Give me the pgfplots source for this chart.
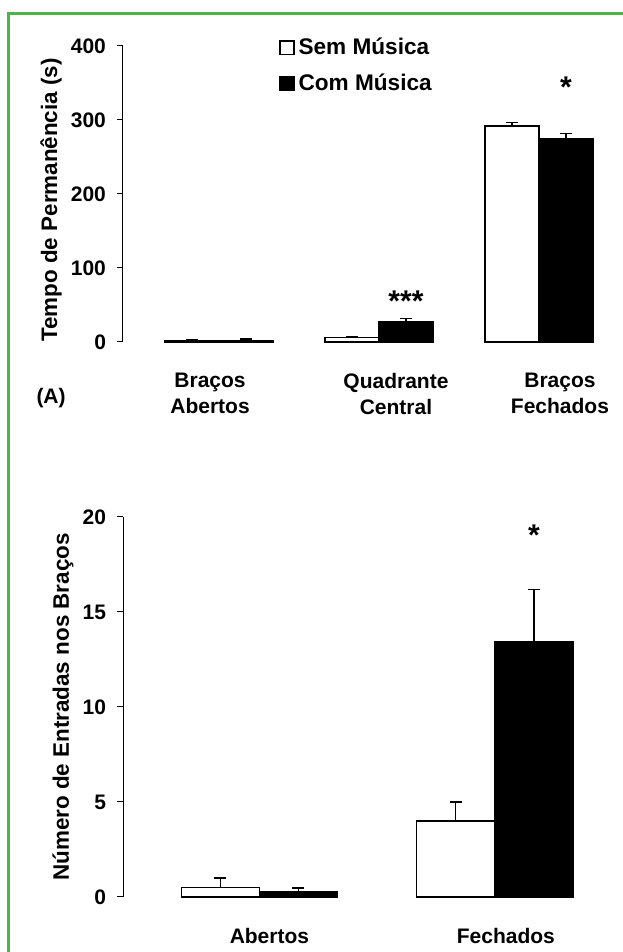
\documentclass[border=0pt]{standalone}
\usepackage{fontspec}
\setmainfont{Liberation Sans}
\usepackage{pgfplots}
\pgfplotsset{compat=1.18}
\definecolor{framegreen}{RGB}{76,180,72}

\pgfplotsset{
  common/.style={
    scale only axis,
    axis lines*=left,
    x axis line style={draw=none},
    y axis line style={-, line width=0.5pt, black},
    major x tick style={draw=none},
    tick align=outside,
    major tick length=3pt,
    ytick style={line width=0.5pt, black},
    /pgf/number format/assume math mode=true,
    yticklabel style={font=\fontsize{10.5}{12}\selectfont\bfseries, xshift=-2pt},
    xticklabel style={align=center, font=\fontsize{10.5}{13}\selectfont\bfseries, yshift=-9pt},
    ybar, bar shift=0pt,
    clip=false,
  },
  sem/.style={fill=white, draw=black, line width=0.6pt, bar shift=0pt,
    error bars/.cd, y dir=plus, y explicit,
    error bar style={line width=0.6pt, black},
    error mark options={rotate=90, mark size=3pt, line width=0.6pt, black}},
  com/.style={fill=black, draw=black, line width=0.6pt, bar shift=0pt,
    error bars/.cd, y dir=plus, y explicit,
    error bar style={line width=0.6pt, black},
    error mark options={rotate=90, mark size=3pt, line width=0.6pt, black}},
}

\begin{document}
\begin{tikzpicture}
\useasboundingbox (0pt,0pt) rectangle (311pt,476pt);
\draw[framegreen, line width=1.5pt] (4.3pt,-5pt) -- (4.3pt,469pt) -- (320pt,469pt);

% ---------- Panel A ----------
\begin{axis}[common,
  at={(61.5pt,305pt)}, anchor=south west,
  width=248pt, height=148pt,
  xmin=-0.6, xmax=2.5, ymin=0, ymax=400,
  ytick={0,100,200,300,400},
  xtick={-0.056,1.106,2.131},
  xticklabels={Braços\\Abertos, Quadrante\\Central, Braços\\Fechados},
  bar width=0.3375,
  ylabel={Tempo de Permanência (s)},
  ylabel style={at={([xshift=-36pt,yshift=-3pt]axis description cs:0,0.5)}, anchor=center, font=\fontsize{11.2}{12}\selectfont\bfseries},
  legend image code/.code={\draw[#1, line width=0.6pt] (0pt,-3.4pt) rectangle (7pt,3.4pt);},
  legend style={draw=none, fill=none, at={(axis description cs:0.3145,1.035)}, anchor=north west,
    inner sep=0pt, row sep=6pt, font=\fontsize{11.3}{12}\selectfont\bfseries,
    nodes={inner xsep=2pt, inner ysep=1pt}},
  legend cell align=left,
]
\addplot[sem] coordinates {(-0.16875,2) +- (0,1) (0.83125,6.5) +- (0,0.5) (1.83125,292) +- (0,4.5)};
\addplot[com] coordinates {(0.16875,2.5) +- (0,1.5) (1.16875,27.5) +- (0,4) (2.16875,274.5) +- (0,7)};
\legend{Sem Música, Com Música}
\node[font=\fontsize{15}{15}\selectfont\bfseries, anchor=base] at (axis cs:1.16875,41) {***};
\node[font=\fontsize{15}{15}\selectfont\bfseries, anchor=base] at (axis cs:2.16875,331) {*};
\node[font=\fontsize{10.5}{12}\selectfont\bfseries] at (axis description cs:-0.145,-0.19) {(A)};
\end{axis}

% ---------- Panel B ----------
\begin{axis}[common,
  at={(61.5pt,27.5pt)}, anchor=south west,
  width=238.9pt, height=190pt,
  xmin=-0.5787, xmax=1.45, ymin=0, ymax=20,
  ytick={0,5,10,15,20},
  xtick={0.043,1.047},
  xticklabels={Abertos, Fechados},
  bar width=0.332,
  ylabel={Número de Entradas nos Braços},
  ylabel style={at={([xshift=-30pt]axis description cs:0,0.5)}, anchor=center, font=\fontsize{11.2}{12}\selectfont\bfseries},
]
\addplot[sem] coordinates {(-0.166,0.48) +- (0,0.52) (0.834,4.0) +- (0,1.0)};
\addplot[com] coordinates {(0.166,0.3) +- (0,0.17) (1.166,13.45) +- (0,2.75)};
\node[font=\fontsize{15}{15}\selectfont\bfseries, anchor=base] at (axis cs:1.166,18.5) {*};
\end{axis}
\end{tikzpicture}
\end{document}
